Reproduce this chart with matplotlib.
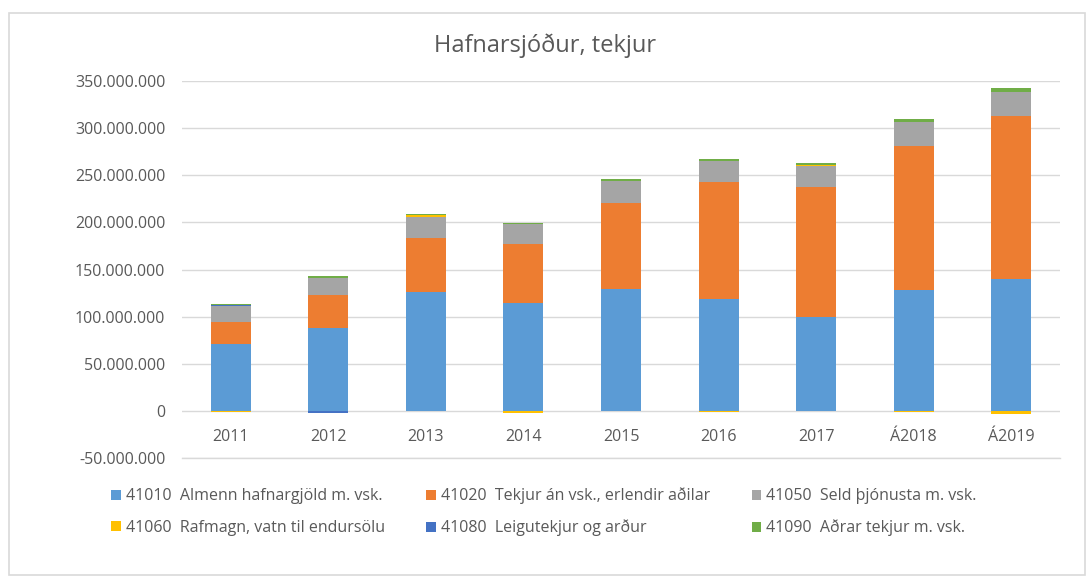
import matplotlib.pyplot as plt
import numpy as np
from matplotlib.patches import Rectangle
from matplotlib.ticker import FuncFormatter

plt.rcParams['font.family'] = ['Open Sans', 'DejaVu Sans']

years = ['2011', '2012', '2013', '2014', '2015', '2016', '2017', 'Á2018', 'Á2019']
labels = ['41010  Almenn hafnargjöld m. vsk.',
          '41020  Tekjur án vsk., erlendir aðilar',
          '41050  Seld þjónusta m. vsk.',
          '41060  Rafmagn, vatn til endursölu',
          '41080  Leigutekjur og arður',
          '41090  Aðrar tekjur m. vsk.']
colors = ['#5B9BD5', '#ED7D31', '#A5A5A5', '#FFC000', '#4472C4', '#70AD47']

# values in millions
s41010 = [70.7, 88.3, 126.0, 114.8, 128.9, 118.3, 100.0, 127.8, 139.5]
s41020 = [23.6, 34.3, 57.7, 61.8, 91.9, 124.7, 137.7, 153.6, 173.7]
s41050 = [17.0, 18.0, 22.3, 21.2, 22.8, 21.8, 21.8, 25.3, 24.8]
s41060 = [-1.5, -0.5, 2.0, -2.5, -0.5, -1.0, 1.0, -1.0, -3.0]
s41080 = [1.5, -1.5, 0.3, 0.3, 0.3, 0.3, 0.3, 0.3, 0.3]
s41090 = [0.6, 2.0, 0.5, 1.5, 2.5, 2.5, 2.0, 2.3, 3.8]

series = [s41010, s41020, s41050, s41060, s41080, s41090]

fig = plt.figure(figsize=(10.9, 5.76), dpi=100)
fig.patches.append(Rectangle((9 / 1090, 0.002), 1076 / 1090, 1 - 13 / 576 - 0.002,
                             transform=fig.transFigure, fill=False,
                             edgecolor='#D9D9D9', linewidth=1.2))
ax = fig.add_axes([182 / 1090, 1 - 458 / 576, (1060 - 182) / 1090, (458 - 81) / 576])

x = np.arange(len(years))
pos_bottom = np.zeros(len(years))
neg_bottom = np.zeros(len(years))
handles = []
for vals, lab, col in zip(series, labels, colors):
    v = np.array(vals) * 1e6
    bottom = np.where(v >= 0, pos_bottom, neg_bottom)
    h = ax.bar(x, v, 0.41, bottom=bottom, color=col, label=lab, zorder=3)
    handles.append(h)
    pos_bottom += np.where(v >= 0, v, 0)
    neg_bottom += np.where(v < 0, v, 0)

ax.set_ylim(-50e6, 350e6)
ax.set_xlim(-0.5, len(years) - 0.5)
ax.set_yticks(np.arange(-50e6, 351e6, 50e6))
ax.yaxis.set_major_formatter(FuncFormatter(lambda v, p: f'{int(round(v)):,}'.replace(',', '.')))
ax.set_xticks(x)
ax.set_xticklabels(years)
ax.grid(axis='y', color='#D9D9D9', linewidth=1, zorder=0)
ax.axhline(-50e6, color='#D9D9D9', linewidth=1, zorder=0, clip_on=False)
for sp in ax.spines.values():
    sp.set_visible(False)
ax.tick_params(axis='both', length=0, labelsize=11.5, colors='#595959')
ax.tick_params(axis='y', pad=12)
# x labels sit just below zero line
for t in ax.get_xticklabels():
    t.set_transform(ax.get_xaxis_transform())
    t.set_position((t.get_position()[0], 0.055))
    t.set_verticalalignment('center')

fig.text(0.5, 1 - 46 / 576, 'Hafnarsjóður, tekjur', ha='center', va='center',
         fontsize=17, color='#595959')

order = [0, 3, 1, 4, 2, 5]
fig.legend([handles[i] for i in order], [labels[i] for i in order],
           loc='center', bbox_to_anchor=(0.499, 1 - 512 / 576), ncol=3, frameon=False,
           fontsize=11.5, labelcolor='#595959', handlelength=0.6, handleheight=0.6,
           handletextpad=0.3, columnspacing=2.6, labelspacing=0.95)

plt.savefig('out.png', dpi=100)
